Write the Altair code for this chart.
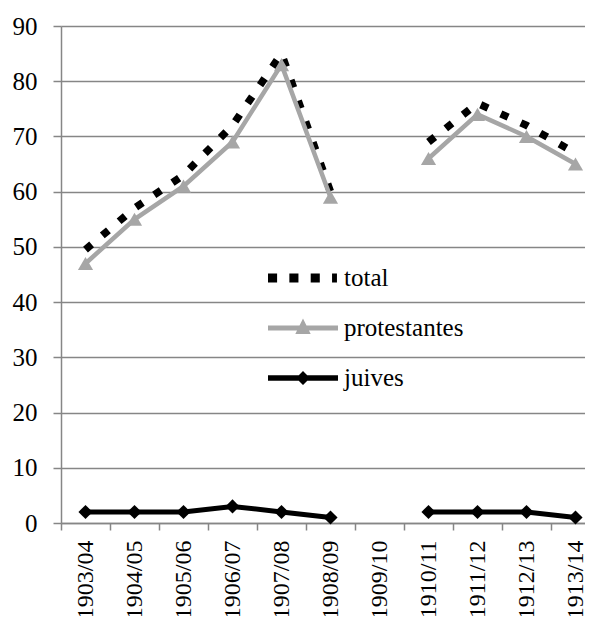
import altair as alt
import pandas as pd

categories = ["1903/04", "1904/05", "1905/06", "1906/07", "1907/08", "1908/09",
              "1909/10", "1910/11", "1911/12", "1912/13", "1913/14"]
total = [49.5, 57, 63, 72, 85, 60, None, 69, 76, 72, 67]
protestantes = [47, 55, 61, 69, 83, 59, None, 66, 74, 70, 65]
juives = [2, 2, 2, 3, 2, 1, None, 2, 2, 2, 1]
y_ticks = [0, 10, 20, 30, 40, 50, 60, 70, 80, 90]

series_names = ["total", "protestantes", "juives"]
series_colors = ["#000000", "#A6A6A6", "#000000"]

# legend symbols (unit-square SVG paths): dotted line, line+triangle, line+diamond
leg_total = ("M-1,-0.13H-0.74V0.13H-1Z M-0.39,-0.13H-0.13V0.13H-0.39Z "
             "M0.22,-0.13H0.48V0.13H0.22Z M0.83,-0.13H0.97V0.13H0.83Z")
leg_prot = "M-1,-0.07H1V0.07H-1Z M0,-0.27L0.22,0.17L-0.22,0.17Z"
leg_juiv = "M-1,-0.08H1V0.08H-1Z M0,-0.2L0.2,0L0,0.2L-0.2,0Z"
legend_paths = [leg_total, leg_prot, leg_juiv]

rows = []
for name, vals in zip(series_names, [total, protestantes, juives]):
    for cat, v in zip(categories, vals):
        rows.append({"annee": cat, "series": name, "value": v})
df = pd.DataFrame(rows)
df["seg"] = df.groupby("series")["value"].transform(lambda s: s.isna().cumsum())
df = df.dropna(subset=["value"])

GRAY = "#868686"
FONT = "Liberation Serif"

x_enc = alt.X("annee:O",
              scale=alt.Scale(type="band", domain=categories, paddingInner=0, paddingOuter=0),
              axis=alt.Axis(title=None, labelAngle=-90, bandPosition=0, tickSize=7,
                            labelPadding=10, grid=False, labelFontSize=24))
y_enc = alt.Y("value:Q",
              scale=alt.Scale(domain=[0, 90], nice=False),
              axis=alt.Axis(title=None, values=y_ticks, tickSize=8, labelPadding=16,
                            grid=True))

base = alt.Chart(df).encode(x=x_enc, y=y_enc, detail="seg:N")

l_total = base.transform_filter(alt.datum.series == "total").mark_line(
    color="#000000", strokeWidth=7.5, strokeDash=[8, 14], strokeCap="butt")
l_prot = base.transform_filter(alt.datum.series == "protestantes").mark_line(
    color="#A6A6A6", strokeWidth=4.5)
p_prot = base.transform_filter(alt.datum.series == "protestantes").mark_point(
    shape="triangle-up", filled=True, color="#A6A6A6", size=230, opacity=1)
l_juiv = base.transform_filter(alt.datum.series == "juives").mark_line(
    color="#000000", strokeWidth=5)
p_juiv = base.transform_filter(alt.datum.series == "juives").mark_point(
    shape="diamond", filled=True, color="#000000", size=200, opacity=1)

leg = alt.Legend(title=None, orient="none", legendX=207, legendY=227,
                 symbolSize=4900, clipHeight=50, rowPadding=0, padding=0,
                 labelOffset=6, labelFont=FONT, labelFontSize=25, labelColor="#000000",
                 symbolStrokeWidth=0, symbolOpacity=1)

legend_layer = alt.Chart(df).transform_filter("false").mark_point(
    filled=True, opacity=1, strokeWidth=0).encode(
    color=alt.Color("series:N", scale=alt.Scale(domain=series_names, range=series_colors),
                    legend=leg),
    shape=alt.Shape("series:N", scale=alt.Scale(domain=series_names, range=legend_paths),
                    legend=leg),
)

chart = alt.layer(l_total, l_prot, p_prot, l_juiv, p_juiv, legend_layer).properties(
    width=539, height=497,
    autosize=alt.AutoSizeParams(type="none"),
    padding={"left": 53, "top": 18, "right": -15, "bottom": 93},
).configure_axis(
    labelFont=FONT, labelFontSize=25, labelColor="#000000",
    domainColor=GRAY, domainWidth=1.5, tickColor=GRAY, tickWidth=1.5,
    gridColor=GRAY, gridWidth=1.5,
).configure_view(strokeWidth=0)

chart.save("out.html", embed_options={"renderer": "svg", "actions": False})
